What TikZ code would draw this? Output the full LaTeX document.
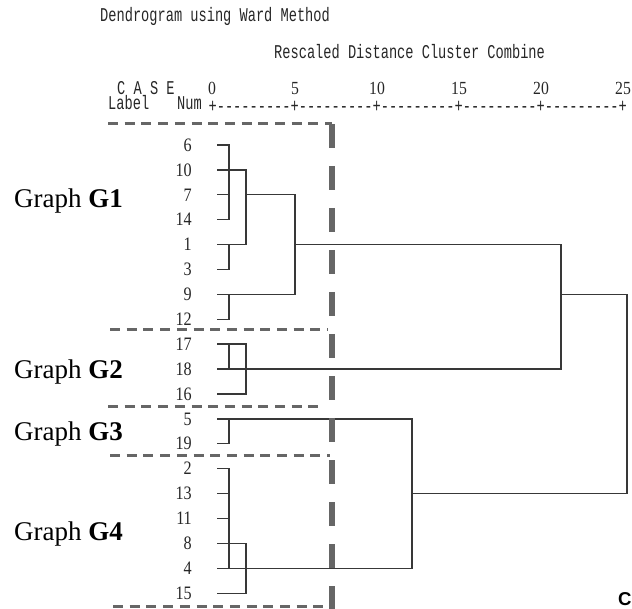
\documentclass[tikz,border=0pt]{standalone}
\usepackage{fontspec}
\setmainfont{Liberation Serif}
\newfontfamily\monofont[FakeStretch=0.701]{Liberation Mono}
\newfontfamily\leaffont[FakeStretch=0.85]{Liberation Serif}
\newfontfamily\sansfontC{Liberation Sans}
\newcommand\rd{-\kern0pt-\kern0pt-\kern0pt-\kern0pt-\kern0pt-\kern0pt-\kern0pt-\kern0pt-\kern0pt}
\begin{document}
\begin{tikzpicture}[x=1pt,y=-1pt,
  mono/.style={font=\monofont\fontsize{19.5}{19.5}\selectfont, inner sep=0pt, text=black!85},
  tick/.style={font=\leaffont\fontsize{18.5}{18.5}\selectfont, inner sep=0pt, anchor=base, text=black!85},
  leaf/.style={font=\leaffont\fontsize{19}{19}\selectfont, inner sep=0pt, anchor=east, text=black!85},
  group/.style={font=\fontsize{27}{27}\selectfont, inner sep=0pt, anchor=base west},
  link/.style={line width=1.4pt, draw=black!78},
  sepline/.style={draw=black!60, line width=3pt, dash pattern=on 10pt off 6.7pt},
  cutline/.style={draw=black!60, line width=6pt, dash pattern=on 24pt off 18pt}]
\useasboundingbox (0,0) rectangle (632,609);

% header
\node[mono, anchor=base west] (title) at (100,22) {Dendrogram using Ward Method};
\node[mono, anchor=base west] (rescaled) at (274,59) {Rescaled Distance Cluster Combine};
\node[mono, anchor=base west] (case) at (117,95) {C A S E};
\node[mono, anchor=base west] (label) at (108,110) {Label};
\node[mono, anchor=base west] (num) at (177,110) {Num};
\node[tick] (t0) at (212,95) {0};
\node[tick] (t5) at (295,95) {5};
\node[tick] (t10) at (377,95) {10};
\node[tick] (t15) at (459,95) {15};
\node[tick] (t20) at (541,95) {20};
\node[tick] (t25) at (623,95) {25};
\node[mono, anchor=base west] (ruler) at (208.4,113) {+\rd+\rd+\rd+\rd+\rd+};

% leaves
\foreach \lab [count=\i from 0] in {6,10,7,14,1,3,9,12,17,18,16,5,19,2,13,11,8,4,15} {
  \node[leaf] (n\lab) at (192,145+24.9*\i) {\lab};
  \coordinate (s\lab) at (217,145+24.9*\i);
}
\coordinate (x1) at (229,0);
\coordinate (x2) at (246,0);
\coordinate (x3) at (295,0);
\coordinate (x4) at (412,0);
\coordinate (x5) at (561,0);
\coordinate (x6) at (627,0);

% G1
\draw[link] (s6) -- (s6 -| x1) -- (s14 -| x1) -- (s14);
\draw[link] (s7) -- (s7 -| x1);
\draw[link] (s10) -- (s10 -| x2) -- (s1 -| x2) -- (s1);
\draw[link] (s3) -- (s3 -| x1) -- (s1 -| x1);
\draw[link] (s7 -| x2) -- (s7 -| x3) -- (s9 -| x3) -- (s9);
\draw[link] (s12) -- (s12 -| x1) -- (s9 -| x1);
\draw[link] (s1 -| x3) -- (s1 -| x5) -- (s18 -| x5) -- (s18);
% G2
\draw[link] (s17) -- (s17 -| x2) -- (s16 -| x2) -- (s16);
\draw[link] (s17 -| x1) -- (s18 -| x1);
\draw[link] (s9 -| x5) -- (s9 -| x6) -- (s13 -| x6) -- (s13 -| x4);
% G3
\draw[link] (s5) -- (s5 -| x4) -- (s4 -| x4) -- (s4);
\draw[link] (s19) -- (s19 -| x1) -- (s5 -| x1);
% G4
\draw[link] (s2) -- (s2 -| x1) -- (s4 -| x1);
\draw[link] (s13) -- (s13 -| x1);
\draw[link] (s11) -- (s11 -| x1);
\draw[link] (s8) -- (s8 -| x2) -- (s15 -| x2) -- (s15);

% group boxes
\draw[sepline] (108,124) -- (332,124);
\draw[sepline] (110,330) -- (328,330);
\draw[sepline] (108,407) -- (325,407);
\draw[sepline] (110,455) -- (330,455);
\draw[sepline] (113,606) -- (330,606);
\draw[cutline] (332,124) -- (332,609);

% group labels
\node[group] (g1) at (14,208) {Graph \textbf{G1}};
\node[group] (g2) at (14,379) {Graph \textbf{G2}};
\node[group] (g3) at (14,440) {Graph \textbf{G3}};
\node[group] (g4) at (14,540) {Graph \textbf{G4}};

\node[font=\sansfontC\bfseries\fontsize{18.6}{18.6}\selectfont, inner sep=0pt, anchor=base west] (c) at (618,605) {C};
\end{tikzpicture}
\end{document}
